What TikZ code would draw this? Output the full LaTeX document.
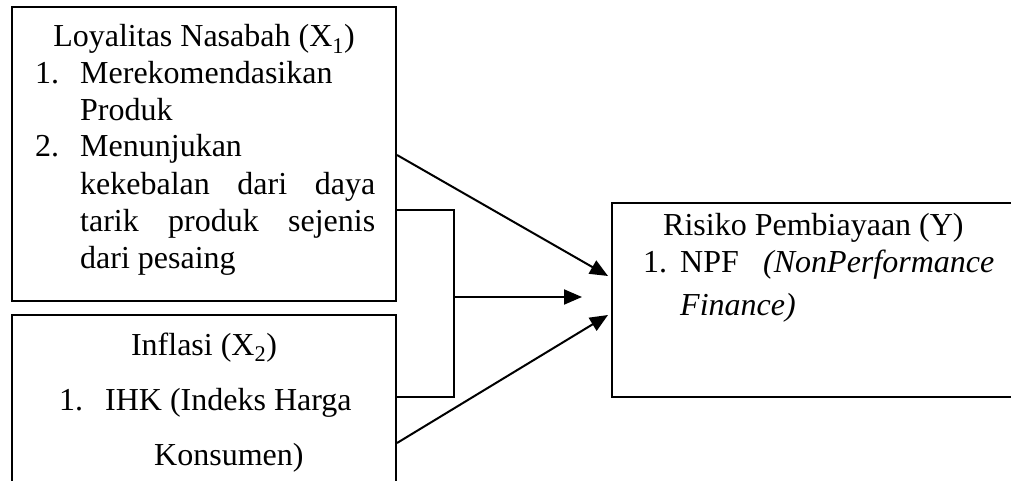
\documentclass[tikz,border=0pt]{standalone}
\usepackage{fontspec}
\setmainfont{Liberation Serif}
\usetikzlibrary{arrows.meta}
\begin{document}
\begin{tikzpicture}[x=1pt,y=-1pt,
  box/.style={draw,line width=2pt,rectangle,inner sep=0pt},
  txt/.style={inner sep=0pt,anchor=base west,font=\fontsize{32}{36}\selectfont},
  ctxt/.style={inner sep=0pt,anchor=base,font=\fontsize{32}{36}\selectfont},
  conn/.style={line width=2pt},
  arr/.style={line width=2pt,-{Triangle[length=18pt,width=15pt]}}]
\useasboundingbox (0,0) rectangle (1011,481);
\clip (0,0) rectangle (1011,481);
\fill[white] (0,0) rectangle (1011,481);
% boxes
\node[box,minimum width=384pt,minimum height=294pt] (xone) at (204,154) {};
\node[box,minimum width=384pt,minimum height=250pt] (xtwo) at (204,440) {};
\node[box,minimum width=600pt,minimum height=194pt] (yy) at (912,300) {};
% box 1 text
\node[ctxt] (t1) at (204,47) {Loyalitas Nasabah (X\textsubscript{1})};
\node[txt] (t2n) at (35,84) {1.};
\node[txt] (t2) at (80,84) {Merekomendasikan};
\node[txt] (t3) at (80,121) {Produk};
\node[txt] (t4n) at (35,157) {2.};
\node[txt] (t4) at (80,157) {Menunjukan};
\node[txt] (t5) at (80,194) {\makebox[295pt][s]{kekebalan\hfill dari\hfill daya}};
\node[txt] (t6) at (80,231) {\makebox[295pt][s]{tarik\hfill produk\hfill sejenis}};
\node[txt] (t7) at (80,268) {dari pesaing};
% box 2 text
\node[ctxt] (u1) at (204,355) {Inflasi (X\textsubscript{2})};
\node[txt] (u2n) at (59,410) {1.};
\node[txt] (u2) at (105,410) {IHK (Indeks Harga};
\node[txt] (u3) at (154,465) {Konsumen)};
% box Y text
\node[txt] (v1) at (663,235) {Risiko Pembiayaan (Y)};
\node[txt] (v2n) at (643,272) {1.};
\node[txt] (v2) at (680,272) {NPF};
\node[txt] (v2i) at (763,272) {\itshape (NonPerformance};
\node[txt] (v3) at (680,315) {\itshape Finance)};
% connector coordinates
\coordinate (a1s) at (xone.east |- 0,155);
\coordinate (a1e) at (yy.west |- 0,276);
\coordinate (a2s) at (xtwo.east |- 0,443);
\coordinate (a2e) at (yy.west |- 0,315);
\coordinate (bt) at (xone.east |- 0,210);
\coordinate (bb) at (xtwo.east |- 0,397);
\coordinate (bm) at (454,297);
\coordinate (me) at (582,297);
% connectors
\draw[arr] (a1s) -- ([xshift=-3pt]a1e);
\draw[arr] (a2s) -- ([xshift=-3pt]a2e);
\draw[conn] (bt) -- (bt -| bm) -- (bb -| bm) -- (bb);
\draw[arr] (bm) -- (me);
\end{tikzpicture}
\end{document}
